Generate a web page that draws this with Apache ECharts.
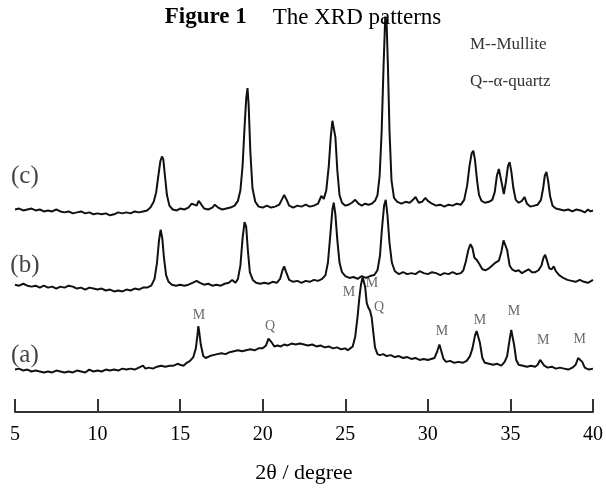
<!DOCTYPE html>
<html>
<head>
<meta charset="utf-8">
<script src="https://cdn.jsdelivr.net/npm/echarts@6/dist/echarts.min.js"></script>
<style>
html,body{margin:0;padding:0;background:#fff;}
#chart{width:606px;height:489px;}
</style>
</head>
<body>
<div id="chart"></div>
<script>
// 2θ values (degree) and intensities (arbitrary units, stacked patterns)
var thetaA = [5.0,5.25,5.5,5.75,6.0,6.25,6.5,6.75,7.0,7.25,7.5,7.75,8.0,8.25,8.5,8.75,9.0,9.25,9.5,9.75,10.0,10.25,10.5,10.75,11.0,11.25,11.5,11.75,12.0,12.25,12.5,12.75,12.9,13.1,13.35,13.6,13.85,14.1,14.35,14.6,14.85,15.0,15.2,15.4,15.6,15.8,15.95,16.05,16.1,16.15,16.25,16.4,16.55,16.8,17.0,17.25,17.5,17.75,18.0,18.25,18.5,18.75,19.0,19.25,19.5,19.75,20.0,20.2,20.35,20.45,20.55,20.7,20.9,21.1,21.3,21.5,21.75,22.0,22.25,22.5,22.75,23.0,23.25,23.5,23.75,24.0,24.25,24.5,24.75,25.0,25.15,25.3,25.45,25.6,25.75,25.85,25.95,26.05,26.12,26.2,26.3,26.4,26.5,26.6,26.7,26.8,26.95,27.1,27.3,27.5,27.75,28.0,28.25,28.5,28.75,29.0,29.25,29.5,29.75,30.0,30.2,30.4,30.55,30.7,30.8,30.95,31.1,31.35,31.6,31.85,32.1,32.35,32.55,32.7,32.85,32.95,33.05,33.15,33.3,33.45,33.7,33.95,34.2,34.45,34.65,34.8,34.95,35.05,35.12,35.22,35.35,35.5,35.75,36.0,36.25,36.5,36.65,36.8,36.92,37.05,37.25,37.5,37.75,38.0,38.25,38.5,38.75,38.95,39.1,39.2,39.35,39.5,39.75,40.0];
var intensityA = [44,45,43,44,42,43,42,41,42,41,43,42,41,42,41,43,42,41,44,42,43,42,44,43,44,43,45,44,45,44,46,48,45,46,45,47,48,47,48,48,50,49,48,51,53,57,66,80,89,84,70,58,56,58,59,60,61,60,62,63,64,63,64,65,64,66,66,69,76,78,72,68,69,68,70,69,71,70,71,70,69,70,68,69,67,68,66,67,65,66,64,66,68,78,100,118,132,140,142,130,113,108,105,98,82,67,60,59,60,58,59,57,58,56,57,55,56,54,55,54,55,56,62,70,64,55,52,53,51,52,51,53,58,66,79,84,82,72,56,51,50,49,50,48,52,58,75,85,86,70,54,49,48,47,48,47,49,54,53,48,46,47,45,46,45,44,46,49,56,57,52,46,44,45];

var thetaB = [5.0,5.25,5.5,5.75,6.0,6.25,6.5,6.75,7.0,7.25,7.5,7.75,8.0,8.25,8.5,8.75,9.0,9.25,9.5,9.75,10.0,10.25,10.5,10.75,11.0,11.25,11.5,11.75,12.0,12.25,12.5,12.75,13.0,13.25,13.45,13.6,13.72,13.82,13.92,14.02,14.15,14.3,14.5,14.75,15.0,15.25,15.5,15.75,16.0,16.2,16.45,16.7,16.95,17.2,17.45,17.7,17.95,18.15,18.35,18.5,18.65,18.78,18.9,19.0,19.1,19.22,19.4,19.6,19.85,20.1,20.35,20.6,20.85,21.05,21.2,21.3,21.42,21.6,21.85,22.1,22.35,22.6,22.85,23.1,23.35,23.6,23.8,23.95,24.1,24.22,24.3,24.4,24.52,24.65,24.8,25.0,25.25,25.5,25.75,26.0,26.25,26.5,26.75,26.95,27.1,27.22,27.35,27.45,27.55,27.68,27.82,28.0,28.25,28.5,28.75,29.0,29.25,29.5,29.75,30.0,30.25,30.5,30.75,31.0,31.25,31.5,31.75,32.0,32.15,32.3,32.45,32.58,32.7,32.82,32.95,33.1,33.3,33.5,33.7,33.9,34.1,34.3,34.45,34.58,34.68,34.8,34.95,35.1,35.3,35.5,35.7,35.9,36.1,36.3,36.5,36.7,36.88,37.0,37.1,37.2,37.35,37.5,37.62,37.75,37.95,38.2,38.45,38.7,38.95,39.2,39.45,39.7,39.9,40.0];
var intensityB = [132,131,133,131,130,131,129,131,129,130,128,130,129,131,130,128,129,127,129,128,127,128,126,127,125,126,125,127,126,128,127,129,129,131,138,155,178,189,180,160,142,135,132,131,132,131,132,134,136,134,132,133,131,132,131,133,134,137,134,138,152,180,197,192,168,145,137,134,133,134,133,135,134,138,147,151,145,137,135,136,134,136,135,137,136,138,142,155,185,210,217,205,178,155,145,141,139,140,138,141,139,141,142,147,162,190,214,220,205,175,155,146,143,145,143,144,143,146,144,143,145,144,142,144,143,145,143,144,147,156,168,174,170,160,158,154,148,147,149,152,155,157,166,178,180,168,152,148,146,147,144,146,148,145,145,147,152,160,163,158,149,148,151,146,142,139,137,136,135,137,135,134,136,137];

var thetaC = [5.0,5.25,5.5,5.75,6.0,6.25,6.5,6.75,7.0,7.25,7.5,7.75,8.0,8.25,8.5,8.75,9.0,9.25,9.5,9.75,10.0,10.25,10.5,10.75,11.0,11.25,11.5,11.75,12.0,12.25,12.5,12.75,13.0,13.2,13.4,13.55,13.68,13.8,13.9,13.98,14.08,14.2,14.35,14.55,14.8,15.0,15.25,15.5,15.7,15.85,16.0,16.12,16.25,16.45,16.7,16.95,17.1,17.3,17.55,17.8,18.05,18.3,18.5,18.65,18.78,18.9,19.0,19.08,19.15,19.25,19.38,19.55,19.75,20.0,20.25,20.5,20.75,21.0,21.15,21.3,21.45,21.6,21.85,22.1,22.35,22.6,22.85,23.1,23.35,23.55,23.7,23.85,24.0,24.12,24.22,24.3,24.4,24.52,24.65,24.8,25.0,25.2,25.4,25.6,25.8,26.0,26.2,26.4,26.6,26.8,26.95,27.08,27.2,27.32,27.42,27.5,27.58,27.68,27.8,27.95,28.15,28.4,28.65,28.9,29.1,29.25,29.45,29.65,29.85,30.0,30.25,30.5,30.75,31.0,31.25,31.5,31.75,32.0,32.2,32.38,32.52,32.65,32.75,32.85,32.98,33.1,33.25,33.45,33.7,33.9,34.05,34.18,34.3,34.4,34.5,34.6,34.72,34.85,34.95,35.05,35.18,35.32,35.5,35.7,35.85,36.0,36.2,36.45,36.65,36.85,36.98,37.08,37.18,37.28,37.4,37.55,37.75,38.0,38.25,38.5,38.75,39.0,39.25,39.5,39.7,39.85,40.0];
var intensityC = [210,211,209,210,211,209,210,208,209,208,210,208,207,208,206,207,208,206,207,205,206,205,206,204,205,207,206,207,206,208,207,208,209,212,218,228,245,260,265,262,245,225,214,210,209,211,210,212,216,215,214,219,216,211,210,212,215,212,210,211,212,214,219,230,255,295,325,336,318,270,232,218,213,212,214,212,213,215,220,225,220,214,212,214,213,215,213,214,216,224,221,230,255,285,302,304,285,250,225,217,214,215,217,220,216,214,216,215,216,219,225,245,290,360,410,405,360,290,240,222,218,216,218,217,220,223,217,218,222,219,216,214,215,213,215,214,216,215,220,235,255,268,271,262,240,225,219,217,218,220,228,245,252,250,235,226,238,255,259,250,232,220,217,219,223,216,213,214,215,220,232,245,249,240,224,214,211,210,209,210,208,210,209,207,210,208,209];

var xTicks = [5,10,15,20,25,30,35,40];

// text annotations: [2θ, intensity, text]
var sampleLabels = [[5.6,59,'(a)'],[5.6,152,'(b)'],[5.6,244,'(c)']];
var phaseLabels = [[16.14,100,'M'],[20.45,89,'Q'],[25.23,124,'M'],[26.62,133,'M'],[27.05,109,'Q'],[30.86,84,'M'],[33.16,95,'M'],[35.22,104,'M'],[36.98,74,'M'],[39.2,75,'M']];

function pairs(xs, ys){ return xs.map(function(x,i){ return [x, ys[i]]; }); }

var serif = '"Liberation Serif","DejaVu Serif",serif';
var lineStyle = {color:'#111', width:2};

var chart = echarts.init(document.getElementById('chart'), null, {renderer:'canvas'});
chart.setOption({
  animation:false,
  backgroundColor:'#fff',
  title:{
    left:'center', top:1,
    text:'{b|Figure 1}{g| }{n|The XRD patterns}',
    textStyle:{
      rich:{
        b:{fontFamily:serif, fontWeight:'bold', fontSize:23, color:'#000'},
        g:{fontFamily:serif, fontSize:23, width:26},
        n:{fontFamily:serif, fontWeight:'normal', fontSize:23, color:'#000'}
      }
    }
  },
  graphic:[
    {type:'text', left:470, top:36, style:{text:'M--Mullite', font:'17px '+serif, fill:'#333'}},
    {type:'text', left:470, top:73, style:{text:'Q--\u03b1-quartz', font:'17px '+serif, fill:'#333'}}
  ],
  grid:{left:15, right:13, top:7, bottom:62},
  xAxis:{
    type:'value', min:5, max:40, interval:5,
    name:'2\u03b8 / degree', nameLocation:'middle', nameGap:50,
    nameTextStyle:{fontFamily:serif, fontSize:22, color:'#000'},
    axisLine:{lineStyle:{color:'#333', width:2}},
    axisTick:{inside:true, length:13, lineStyle:{color:'#333', width:2}},
    axisLabel:{fontFamily:serif, fontSize:20, color:'#000', margin:13,
      formatter:function(v){ return xTicks.indexOf(v)>=0 ? String(v) : ''; }},
    splitLine:{show:false}
  },
  yAxis:{type:'value', min:0, max:420, show:false},
  series:[
    {type:'line', name:'(a)', data:pairs(thetaA,intensityA), symbol:'none', lineStyle:lineStyle},
    {type:'line', name:'(b)', data:pairs(thetaB,intensityB), symbol:'none', lineStyle:lineStyle},
    {type:'line', name:'(c)', data:pairs(thetaC,intensityC), symbol:'none', lineStyle:lineStyle},
    {type:'scatter', data:sampleLabels, symbolSize:0,
      label:{show:true, position:'inside', formatter:function(p){return p.data[2];}, fontFamily:serif, fontSize:25, color:'#111'}},
    {type:'scatter', data:phaseLabels, symbolSize:0,
      label:{show:true, position:'inside', formatter:function(p){return p.data[2];}, fontFamily:serif, fontSize:14, color:'#444'}}
  ]
});
</script>
</body>
</html>
